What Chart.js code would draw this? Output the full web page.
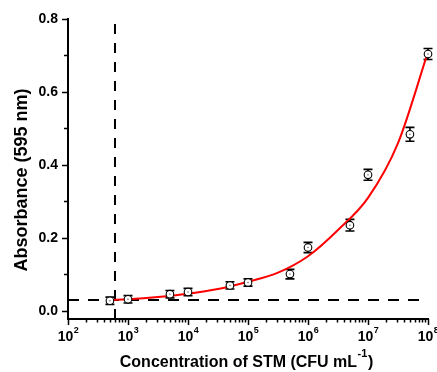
<!DOCTYPE html>
<html><head><meta charset="utf-8">
<script src="https://cdn.jsdelivr.net/npm/chart.js@4"></script>
<style>html,body{margin:0;padding:0;background:#fff}</style>
</head><body>
<canvas id="c" width="437" height="372" style="display:block"></canvas>
<script>
// ---- data ----
const concentrations = [500, 1000, 5000, 10000, 50000, 100000, 500000, 1000000, 5000000, 10000000, 50000000, 100000000];
const absorbance     = [0.028, 0.032, 0.046, 0.052, 0.070, 0.078, 0.101, 0.174, 0.235, 0.373, 0.484, 0.704];
const absorbanceErr  = [0.010, 0.010, 0.010, 0.010, 0.010, 0.010, 0.013, 0.014, 0.016, 0.015, 0.019, 0.015];
const fitConcentrations = [500, 1000, 3162, 10000, 31623, 100000, 316228, 1000000, 3162278, 10000000, 31622777, 100000000];
const fitAbsorbance     = [0.030, 0.032, 0.038, 0.047, 0.060, 0.080, 0.105, 0.150, 0.222, 0.310, 0.460, 0.710];
const lodConcentration = 607;
const blankAbsorbance = 0.030;
const xDecades = [1e2, 1e3, 1e4, 1e5, 1e6, 1e7, 1e8];
const xTickExponents = ['2', '3', '4', '5', '6', '7', '8'];
const yTickValues = [0, 0.1, 0.2, 0.3, 0.4, 0.5, 0.6, 0.7, 0.8];
const yTickLabels = ['0.0', '', '0.2', '', '0.4', '', '0.6', '', '0.8'];
const xTitleMain = 'Concentration of STM (CFU mL';
const xTitleSup = '-1';
const xTitleEnd = ')';
const yTitle = 'Absorbance (595 nm)';

const FONT = '"Liberation Sans", Arial, sans-serif';

// minor ticks of the log axis
const xAllTicks = [];
xDecades.forEach((d, i) => {
  xAllTicks.push(d);
  if (i < xDecades.length - 1) for (let m = 2; m <= 9; m++) xAllTicks.push(d * m);
});

const decorPlugin = {
  id: 'decor',
  beforeDatasetsDraw(chart) {
    const {ctx, scales: {x, y}} = chart;
    ctx.save();
    ctx.strokeStyle = '#000';
    ctx.lineWidth = 1.6;
    concentrations.forEach((c, i) => {
      const px = x.getPixelForValue(c);
      const yt = y.getPixelForValue(absorbance[i] + absorbanceErr[i]);
      const yb = y.getPixelForValue(absorbance[i] - absorbanceErr[i]);
      ctx.beginPath();
      ctx.moveTo(px, yt); ctx.lineTo(px, yb);
      ctx.moveTo(px - 4.5, yt); ctx.lineTo(px + 4.5, yt);
      ctx.moveTo(px - 4.5, yb); ctx.lineTo(px + 4.5, yb);
      ctx.stroke();
    });
    ctx.restore();
  },
  afterDatasetsDraw(chart) {
    const {ctx, scales: {x, y}} = chart;
    ctx.save();
    ctx.fillStyle = '#555';
    concentrations.forEach((c, i) => {
      const px = x.getPixelForValue(c);
      const py = y.getPixelForValue(absorbance[i]);
      ctx.fillRect(px - 0.6, py - 0.6, 1.2, 1.2);
    });
    ctx.restore();
  },
  afterDraw(chart) {
    const {ctx, scales: {x, y}, chartArea: a} = chart;
    ctx.save();
    ctx.strokeStyle = '#000';
    ctx.lineWidth = 1.5;
    ctx.beginPath();
    yTickValues.forEach((v, i) => {
      const py = Math.round(y.getPixelForValue(v)) + 0.5;
      const len = yTickLabels[i] ? 6 : 4;
      ctx.moveTo(a.left - len, py); ctx.lineTo(a.left, py);
    });
    xAllTicks.forEach(v => {
      const px = Math.round(x.getPixelForValue(v)) + 0.5;
      const len = xDecades.includes(v) ? 6 : 3.5;
      ctx.moveTo(px, a.bottom); ctx.lineTo(px, a.bottom + len);
    });
    ctx.stroke();

    ctx.fillStyle = '#000';
    ctx.textBaseline = 'alphabetic';
    ctx.textAlign = 'left';
    // x tick labels: 10 with raised exponent
    const baseFont = 'bold 14px ' + FONT, supFont = 'bold 9px ' + FONT;
    xDecades.forEach((d, i) => {
      const px = x.getPixelForValue(d);
      ctx.font = baseFont; const w1 = ctx.measureText('10').width;
      ctx.font = supFont; const w2 = ctx.measureText(xTickExponents[i]).width;
      const x0 = px - (w1 + w2) / 2;
      ctx.font = baseFont; ctx.fillText('10', x0, 341);
      ctx.font = supFont; ctx.fillText(xTickExponents[i], x0 + w1 + 0.5, 333);
    });

    // x axis title with superscript
    const tFont = 'bold 16px ' + FONT, tSup = 'bold 11px ' + FONT;
    ctx.font = tFont; const m1 = ctx.measureText(xTitleMain).width, m3 = ctx.measureText(xTitleEnd).width;
    ctx.font = tSup; const m2 = ctx.measureText(xTitleSup).width;
    const cx = (a.left + a.right) / 2 - 1.5;
    let tx = cx - (m1 + m2 + m3 + 1) / 2;
    ctx.font = tFont; ctx.fillText(xTitleMain, tx, 367);
    ctx.font = tSup; ctx.fillText(xTitleSup, tx + m1 + 0.5, 357);
    ctx.font = tFont; ctx.fillText(xTitleEnd, tx + m1 + m2 + 1, 367);

    // y axis title
    ctx.font = 'bold 18px ' + FONT;
    ctx.textAlign = 'center';
    ctx.textBaseline = 'middle';
    ctx.translate(22, 180);
    ctx.rotate(-Math.PI / 2);
    ctx.fillText(yTitle, 0, 0);
    ctx.restore();
  }
};

new Chart(document.getElementById('c'), {
  type: 'scatter',
  data: {
    datasets: [
      {
        label: 'data',
        data: concentrations.map((c, i) => ({x: c, y: absorbance[i]})),
        pointStyle: 'circle',
        pointRadius: 3.8,
        pointBackgroundColor: '#fff',
        pointBorderColor: '#000',
        pointBorderWidth: 1.1,
        showLine: false,
        clip: false,
        order: 0
      },
      {
        label: 'fit',
        data: fitConcentrations.map((c, i) => ({x: c, y: fitAbsorbance[i]})),
        showLine: true,
        borderColor: '#ff0000',
        borderWidth: 2,
        pointRadius: 0,
        cubicInterpolationMode: 'monotone',
        clip: false,
        order: 1
      },
      {
        label: 'blank',
        data: [{x: xDecades[0], y: blankAbsorbance}, {x: xDecades[xDecades.length - 1], y: blankAbsorbance}],
        showLine: true,
        borderColor: '#000',
        borderWidth: 2,
        borderDash: [11, 9],
        pointRadius: 0,
        order: 2
      },
      {
        label: 'lod',
        data: [{x: lodConcentration, y: -0.022}, {x: lodConcentration, y: 0.792}],
        showLine: true,
        borderColor: '#000',
        borderWidth: 2,
        borderDash: [10, 9],
        pointRadius: 0,
        order: 2
      }
    ]
  },
  options: {
    responsive: false,
    animation: false,
    devicePixelRatio: 1,
    layout: {padding: {top: 19, right: 9, left: 0, bottom: 0}},
    plugins: {legend: {display: false}, tooltip: {enabled: false}},
    scales: {
      x: {
        type: 'logarithmic',
        min: 100, max: 1e8,
        afterBuildTicks(s) { s.ticks = xAllTicks.map(v => ({value: v})); },
        afterFit(s) { s.height = 53; s.paddingLeft = 0; s.paddingRight = 0; },
        grid: {display: false, drawTicks: false},
        border: {display: true, color: '#000', width: 2},
        ticks: {
          autoSkip: false, maxRotation: 0, minRotation: 0,
          callback() { return ''; }
        }
      },
      y: {
        min: -0.022, max: 0.8,
        afterBuildTicks(s) { s.ticks = yTickValues.map(v => ({value: v})); },
        afterFit(s) { s.width = 68; s.paddingTop = 0; s.paddingBottom = 0; },
        grid: {display: false, drawTicks: false},
        border: {display: true, color: '#000', width: 2},
        ticks: {
          autoSkip: false, padding: 10, color: '#000',
          font: {family: FONT, size: 14, weight: 'bold'},
          callback(v) { const k = yTickValues.findIndex(t => Math.abs(t - v) < 1e-9); return k >= 0 ? yTickLabels[k] : ''; }
        }
      }
    }
  },
  plugins: [decorPlugin]
});
</script>
</body></html>
